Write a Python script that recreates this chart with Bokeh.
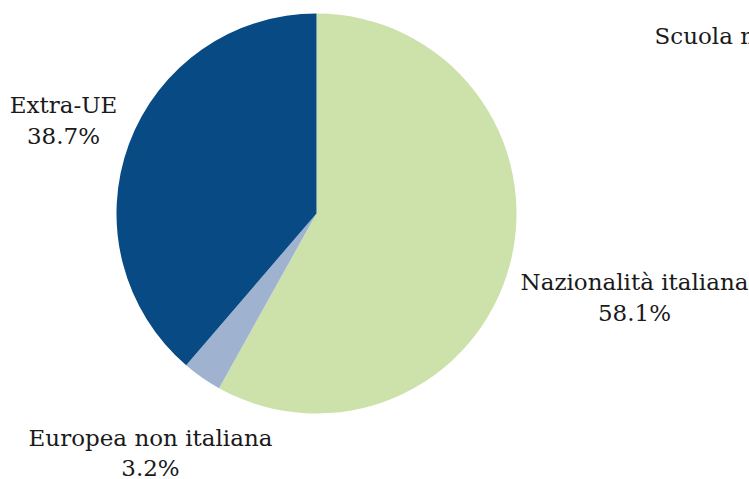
import numpy as np
from bokeh.plotting import figure
from bokeh.models import ColumnDataSource, Range1d
from bokeh.core.properties import value
from bokeh.embed import file_html
from bokeh.resources import INLINE

# ---- data ----
categories = ["Nazionalità italiana", "Europea non italiana", "Extra-UE"]
shares = [58.1, 3.2, 38.7]
colors = ["#cde1ab", "#9fb3d0", "#084a83"]
title_text = "Scuola media"

W, H = 749, 479
FONT = "DejaVu Serif"
FS = "23px"

p = figure(width=W, height=H, output_backend="svg", toolbar_location=None,
           x_range=Range1d(0, W), y_range=Range1d(0, H), min_border=0)
p.axis.visible = False
p.grid.visible = False
p.outline_line_color = None
p.background_fill_color = "white"
p.border_fill_color = "white"

# pie geometry (layout)
cx, cy, r = 316, 266, 200
vals = np.array(shares, dtype=float)
fr = vals / vals.sum()
cum = np.concatenate([[0], np.cumsum(fr)])
start = np.pi / 2 - cum[:-1] * 2 * np.pi
end = np.pi / 2 - cum[1:] * 2 * np.pi

src = ColumnDataSource(dict(start=start, end=end, color=colors, cat=categories))
p.wedge(x=cx, y=cy, radius=r, start_angle="start", end_angle="end",
        direction="clock", fill_color="color", line_color=None, source=src)

# labels (layout positions)
label_pos = [(634, 198, 167), (150, 42, 12), (63, 375, 344)]
for (cat, sh, (lx, y1, y2)) in zip(categories, shares, label_pos):
    p.text(x=[lx], y=[y1], text=[cat], text_align="center", text_baseline="middle",
           text_font=value(FONT), text_font_size=FS, text_color="#1a1a1a")
    p.text(x=[lx], y=[y2], text=[f"{sh:.1f}%"], text_align="center", text_baseline="middle",
           text_font=value(FONT), text_font_size=FS, text_color="#1a1a1a")

p.text(x=[654], y=[444], text=[title_text], text_align="left", text_baseline="middle",
       text_font=value(FONT), text_font_size=FS, text_color="#1a1a1a")

open("out.html", "w").write(file_html(p, INLINE))
